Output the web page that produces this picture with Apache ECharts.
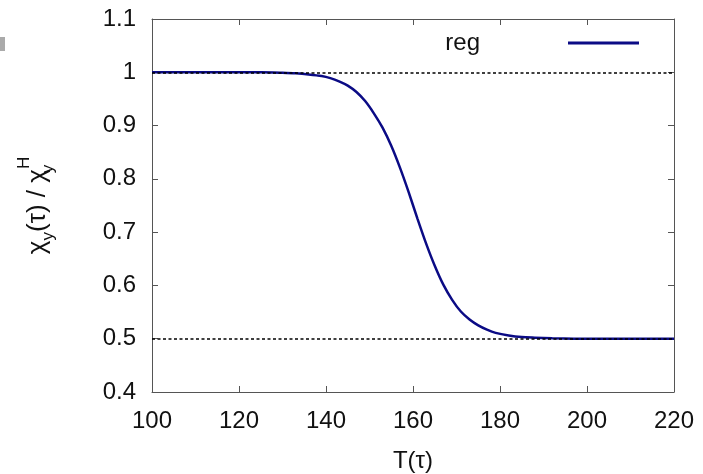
<!DOCTYPE html>
<html>
<head>
<meta charset="utf-8">
<script src="https://cdn.jsdelivr.net/npm/echarts@6/dist/echarts.min.js"></script>
<style>
  html, body { margin: 0; padding: 0; background: #fff; }
  #chart { width: 703px; height: 474px; }
</style>
</head>
<body>
<div id="chart"></div>
<script>
// Temperature values T(τ) and the normalised susceptibility χy(τ)/χy^H
const temps = [100, 110, 120, 125, 130, 133, 136, 139, 141, 143, 145, 147, 149, 151, 153,
               155, 157, 159, 161, 163, 165, 167, 169, 171, 173, 175, 177, 179, 182, 185,
               188, 192, 200, 210, 220];
const chiRatio = [1.000, 1.000, 1.000, 1.000, 0.999, 0.998, 0.996, 0.993, 0.989, 0.983,
                  0.975, 0.963, 0.946, 0.923, 0.896, 0.862, 0.821, 0.775, 0.726, 0.679,
                  0.637, 0.601, 0.573, 0.551, 0.536, 0.525, 0.517, 0.511, 0.506, 0.503,
                  0.502, 0.501, 0.500, 0.500, 0.500];
// Reference levels drawn as dotted lines
const refLevels = [1.0, 0.5];
const seriesName = 'reg';

const FONT = '"Liberation Sans", Arial, Helvetica, sans-serif';
const chart = echarts.init(document.getElementById('chart'), null, { renderer: 'canvas' });

const axisLine = { show: true, lineStyle: { color: '#555', width: 1 } };
const tickIn = { show: true, inside: true, length: 6, lineStyle: { color: '#555', width: 1 } };

chart.setOption({
  animation: false,
  backgroundColor: '#fff',
  grid: { left: 152, right: 29, top: 19, bottom: 82, containLabel: false, outerBoundsMode: 'none' },
  legend: {
    data: [seriesName],
    right: 59,
    top: 26,
    align: 'right',
    icon: 'rect',
    itemWidth: 71,
    itemHeight: 3,
    textStyle: { fontFamily: FONT, fontSize: 24, color: '#111', padding: [0, 83, 0, 0] }
  },
  xAxis: [{
    type: 'value', min: 100, max: 220, interval: 20,
    axisLine: axisLine, axisTick: tickIn, splitLine: { show: false },
    axisLabel: { fontFamily: FONT, fontSize: 24, color: '#111', margin: 17 },
    name: 'T(τ)', nameLocation: 'middle', nameGap: 57,
    nameTextStyle: { fontFamily: FONT, fontSize: 24, color: '#111' }
  }, {
    type: 'value', position: 'top', min: 100, max: 220, interval: 20,
    axisLine: axisLine, axisTick: tickIn, axisLabel: { show: false }, splitLine: { show: false }
  }],
  yAxis: [{
    type: 'value', min: 0.4, max: 1.1, interval: 0.1,
    axisLine: axisLine, axisTick: tickIn, splitLine: { show: false },
    axisLabel: { fontFamily: FONT, fontSize: 24, color: '#111', margin: 16 },
    name: '{m|χ}{s|y}{m|(τ) / χ}{s0|y}{h|H}',
    nameLocation: 'middle', nameRotate: 90, nameGap: 92,
    nameTextStyle: {
      fontFamily: FONT, color: '#111',
      rich: {
        m: { fontFamily: FONT, fontSize: 26, lineHeight: 44, color: '#111', verticalAlign: 'middle' },
        s: { fontFamily: FONT, fontSize: 17, lineHeight: 17, color: '#111', verticalAlign: 'bottom', padding: [0, 0, 3, 0] },
        s0: { fontFamily: FONT, fontSize: 17, lineHeight: 17, color: '#111', verticalAlign: 'bottom', padding: [0, 0, 3, 0], width: 0.01, align: 'left' },
        h: { fontFamily: FONT, fontSize: 17, lineHeight: 17, color: '#111', verticalAlign: 'top' }
      }
    }
  }, {
    type: 'value', position: 'right', min: 0.4, max: 1.1, interval: 0.1,
    axisLine: axisLine, axisTick: tickIn, axisLabel: { show: false }, splitLine: { show: false }
  }],
  series: [{
    name: seriesName,
    type: 'line',
    data: temps.map((t, i) => [t, chiRatio[i]]),
    smooth: 0.25,
    showSymbol: false,
    symbol: 'none',
    z: 3,
    lineStyle: { color: '#0b0b85', width: 2.5 },
    itemStyle: { color: '#0b0b85' },
    markLine: {
      silent: true,
      symbol: 'none',
      label: { show: false },
      lineStyle: { color: '#000', width: 1.5, type: [3, 2.5] },
      data: refLevels.map(v => ({ yAxis: v }))
    }
  }],
  graphic: [{
    type: 'rect', left: 0, top: 37, shape: { width: 5, height: 14 },
    style: { fill: '#aaaaaa' }
  }]
});
</script>
</body>
</html>
